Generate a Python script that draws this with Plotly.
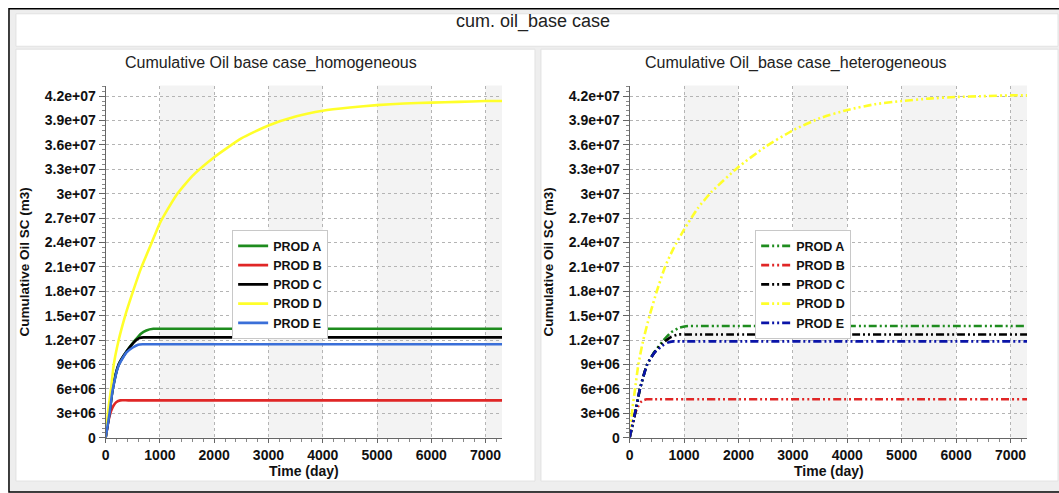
import plotly.graph_objects as go

W, H = 1059, 493

# ---------------- data ----------------
wells = ["PROD A", "PROD B", "PROD C", "PROD D", "PROD E"]

# homogeneous case (time in days, cumulative oil in m3)
hom_t_A = [0, 70, 130, 240, 385, 545, 650, 750, 880, 1050, 7305]
hom_v_A = [0, 3.0e6, 6.0e6, 9.0e6, 1.06e7, 1.20e7, 1.28e7, 1.32e7, 1.34e7, 1.34e7, 1.34e7]
hom_t_B = [0, 50, 100, 150, 200, 270, 420, 7305]
hom_v_B = [0, 2.0e6, 3.3e6, 4.0e6, 4.4e6, 4.6e6, 4.6e6, 4.6e6]
hom_t_C = [0, 70, 130, 240, 385, 545, 620, 700, 850, 7305]
hom_v_C = [0, 3.0e6, 6.0e6, 9.0e6, 1.06e7, 1.19e7, 1.225e7, 1.234e7, 1.234e7, 1.234e7]
hom_t_D = [0, 50, 100, 150, 240, 360, 480, 650, 850, 1000, 1300, 1600, 2000, 2500,
           3000, 3500, 4000, 4500, 5000, 5500, 6000, 6500, 7000, 7305]
hom_v_D = [0, 3.5e6, 6.0e6, 9.0e6, 1.2e7, 1.5e7, 1.75e7, 2.08e7, 2.4e7, 2.64e7, 2.98e7,
           3.22e7, 3.45e7, 3.68e7, 3.84e7, 3.95e7, 4.02e7, 4.06e7, 4.09e7, 4.11e7,
           4.12e7, 4.13e7, 4.14e7, 4.14e7]
hom_t_E = [0, 70, 130, 240, 385, 500, 600, 680, 830, 7305]
hom_v_E = [0, 2.9e6, 5.9e6, 8.9e6, 1.05e7, 1.11e7, 1.145e7, 1.15e7, 1.15e7, 1.15e7]

# heterogeneous case
het_t_A = [0, 100, 190, 320, 460, 600, 750, 900, 1073, 1250, 7305]
het_v_A = [0, 3.0e6, 6.0e6, 9.0e6, 1.06e7, 1.18e7, 1.29e7, 1.35e7, 1.374e7, 1.374e7, 1.374e7]
het_t_B = [0, 50, 100, 150, 200, 250, 310, 460, 7305]
het_v_B = [0, 1.8e6, 3.0e6, 3.8e6, 4.35e6, 4.6e6, 4.73e6, 4.73e6, 4.73e6]
het_t_C = [0, 100, 190, 320, 460, 600, 750, 890, 1050, 7305]
het_v_C = [0, 3.0e6, 6.0e6, 9.0e6, 1.05e7, 1.16e7, 1.235e7, 1.27e7, 1.27e7, 1.27e7]
het_t_D = [0, 50, 100, 160, 250, 366, 494, 650, 800, 1000, 1250, 1500, 2000, 2500,
           3000, 3500, 4000, 4500, 5000, 5500, 6000, 6500, 7000, 7305]
het_v_D = [0, 3.5e6, 6.0e6, 9.0e6, 1.2e7, 1.5e7, 1.79e7, 2.1e7, 2.32e7, 2.56e7, 2.82e7,
           3.02e7, 3.33e7, 3.58e7, 3.78e7, 3.93e7, 4.03e7, 4.1e7, 4.14e7, 4.17e7,
           4.19e7, 4.2e7, 4.21e7, 4.21e7]
het_t_E = [0, 97, 189, 323, 459, 600, 700, 800, 950, 7305]
het_v_E = [0, 3.0e6, 6.0e6, 9.0e6, 1.05e7, 1.13e7, 1.17e7, 1.185e7, 1.185e7, 1.185e7]

y_tickvals = [0, 3e6, 6e6, 9e6, 1.2e7, 1.5e7, 1.8e7, 2.1e7, 2.4e7, 2.7e7, 3.0e7,
              3.3e7, 3.6e7, 3.9e7, 4.2e7]
y_ticktext = ["0", "3e+06", "6e+06", "9e+06", "1.2e+07", "1.5e+07", "1.8e+07",
              "2.1e+07", "2.4e+07", "2.7e+07", "3e+07", "3.3e+07", "3.6e+07",
              "3.9e+07", "4.2e+07"]
x_tickvals = [0, 1000, 2000, 3000, 4000, 5000, 6000, 7000]
band_starts = [1000, 3000, 5000, 7000]
band_ends = [2000, 4000, 6000, 7305]

hom_colors = ["#1e8c1e", "#e02626", "#000000", "#ffff2a", "#3a6fd8"]
het_colors = ["#1e8c1e", "#e02626", "#000000", "#ffff2a", "#0a14a8"]

main_title = "cum. oil_base case"
left_title = "Cumulative Oil base case_homogeneous"
right_title = "Cumulative Oil_base case_heterogeneous"
x_title = "Time (day)"
y_title = "Cumulative Oil SC (m3)"

# ---------------- helpers ----------------
def px(x):
    return x / W

def py(y):
    return 1 - y / H

FONT = "Liberation Sans, Arial, sans-serif"
TICK_FONT = dict(family=FONT, size=14, color="#111", weight="bold")

fig = go.Figure()

hom = [(hom_t_A, hom_v_A), (hom_t_B, hom_v_B), (hom_t_C, hom_v_C), (hom_t_D, hom_v_D), (hom_t_E, hom_v_E)]
het = [(het_t_A, het_v_A), (het_t_B, het_v_B), (het_t_C, het_v_C), (het_t_D, het_v_D), (het_t_E, het_v_E)]

for name, (t, v), c in zip(wells, hom, hom_colors):
    fig.add_trace(go.Scatter(x=t, y=v, name=name, mode="lines",
                             line=dict(color=c, width=2.6, shape="spline", smoothing=0.5),
                             xaxis="x", yaxis="y", legend="legend"))
for name, (t, v), c in zip(wells, het, het_colors):
    fig.add_trace(go.Scatter(x=t, y=v, name=name, mode="lines",
                             line=dict(color=c, width=2.6, shape="spline", smoothing=0.5,
                                       dash="8px,3px,2px,3px,2px,3px"),
                             xaxis="x2", yaxis="y2", legend="legend2"))

# ---------------- axes ----------------
left_dom = [px(102), px(500)]
right_dom = [px(628), px(1027)]
y_dom = [py(445), py(87)]

def xaxis(dom, anchor):
    return dict(domain=dom, anchor=anchor, range=[0, 7305], tickvals=x_tickvals,
                showline=True, linecolor="#666", linewidth=1,
                ticks="outside", ticklen=4, tickcolor="#666",
                tickfont=TICK_FONT,
                showgrid=True, gridcolor="#b4b4b4", griddash="dot", gridwidth=1,
                zeroline=False,
                minor=dict(tickmode="linear", tick0=0, dtick=200, ticks="outside",
                           ticklen=3, tickcolor="#888", showgrid=False))

def yaxis(anchor):
    return dict(domain=y_dom, anchor=anchor, range=[0, 4.33e7],
                tickmode="array", tickvals=y_tickvals, ticktext=y_ticktext,
                showline=True, linecolor="#666", linewidth=1,
                ticks="outside", ticklen=6, tickcolor="#666",
                tickfont=TICK_FONT,
                showgrid=True, gridcolor="#b4b4b4", griddash="dot", gridwidth=1,
                zeroline=False,
                minor=dict(tickmode="linear", tick0=0, dtick=6e5, ticks="outside",
                           ticklen=3, tickcolor="#888", showgrid=False))

legend_common = dict(bgcolor="white", bordercolor="#c8c8c8", borderwidth=1,
                     font=dict(family=FONT, size=12.5, color="#111", weight="bold"),
                     xanchor="left", yanchor="top", itemwidth=30,
                     tracegroupgap=0)

fig.update_layout(
    width=W, height=H, margin=dict(l=0, r=0, t=0, b=0),
    paper_bgcolor="white", plot_bgcolor="white",
    xaxis=xaxis(left_dom, "y"), yaxis=yaxis("x"),
    xaxis2=xaxis(right_dom, "y2"), yaxis2=yaxis("x2"),
    legend=dict(x=px(229), y=py(234), **legend_common),
    legend2=dict(x=px(754), y=py(234), **legend_common),
    showlegend=True,
)

# ---------------- background panels ----------------
shapes = [
    dict(type="rect", xref="paper", yref="paper", x0=px(5), x1=px(1070), y0=py(500), y1=py(9),
         fillcolor="#eeeeee", line=dict(color="black", width=1.5), layer="below"),
    dict(type="rect", xref="paper", yref="paper", x0=px(12), x1=px(1058), y0=py(47), y1=py(14),
         fillcolor="white", line=dict(color="#e2e2e2", width=1), layer="below"),
    dict(type="rect", xref="paper", yref="paper", x0=px(12), x1=px(533), y0=py(489), y1=py(50),
         fillcolor="white", line=dict(color="#e2e2e2", width=1), layer="below"),
    dict(type="rect", xref="paper", yref="paper", x0=px(539), x1=px(1058), y0=py(489), y1=py(50),
         fillcolor="white", line=dict(color="#e2e2e2", width=1), layer="below"),
]
for xr, yr in (("x", "y domain"), ("x2", "y2 domain")):
    for s, e in zip(band_starts, band_ends):
        shapes.append(dict(type="rect", xref=xr, yref=yr, x0=s, x1=e, y0=0, y1=1,
                           fillcolor="#f3f3f3", line=dict(width=0), layer="below"))
fig.update_layout(shapes=shapes)

# ---------------- text ----------------
def note(text, x, y, size, bold=False, angle=0):
    f = dict(family=FONT, size=size, color="#111" if bold else "#222")
    if bold:
        f["weight"] = "bold"
    return dict(text=text, x=px(x), y=py(y), xref="paper", yref="paper",
                xanchor="center", yanchor="middle", showarrow=False,
                textangle=angle, font=f)

ann = [
    note(main_title, 531, 22, 18),
    note(left_title, 268, 64, 16),
    note(right_title, 795, 64, 16),
    note(x_title, 301, 479, 14, bold=True),
    note(x_title, 828, 479, 14, bold=True),
    note(y_title, 21, 266, 13.5, bold=True, angle=-90),
    note(y_title, 547, 266, 13.5, bold=True, angle=-90),
]
fig.update_layout(annotations=ann)

fig.write_html("out.html")
